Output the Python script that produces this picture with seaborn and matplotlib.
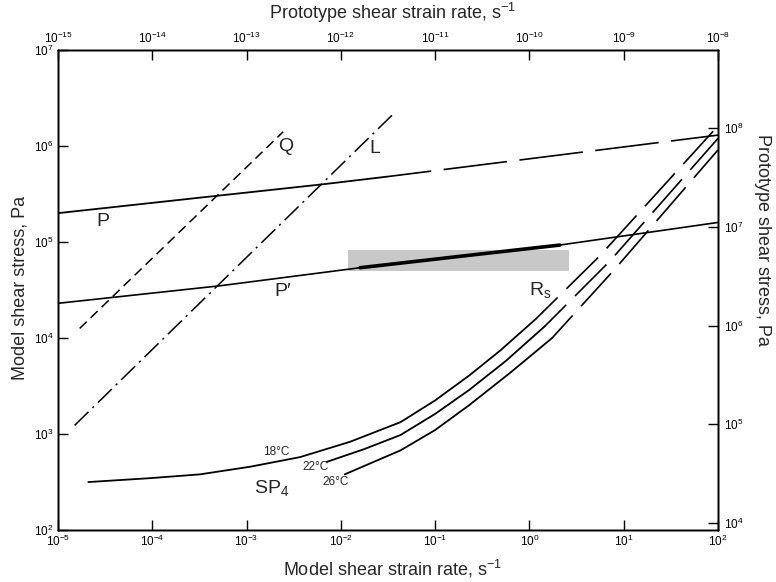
import numpy as np
import pandas as pd
import matplotlib
matplotlib.use("Agg")
import matplotlib.pyplot as plt
from matplotlib.ticker import LogLocator, NullLocator, FixedLocator
import seaborn as sns

# ---------------- data ----------------
# Line P : model shear stress (Pa) vs model shear strain rate (1/s)
p_rate = [1e-5, 4.4e-4, 6.5e-3, 3.1e-2, 100]
p_stress = [2.0e5, 3.0e5, 4.0e5, 4.8e5, 1.3e6]
p_solid_end = 3  # index of last point of the solid part

# Line P'
pp_rate = [1e-5, 5.2e-4, 1.6e-2, 3.0e-1, 2.1, 100]
pp_stress = [2.3e4, 3.5e4, 5.4e4, 7.5e4, 9.3e4, 1.6e5]
rs_first, rs_last = 2, 4  # thick part of P' (R_s range)
# shaded R_s band
band_rate = [1.2e-2, 2.6]
band_stress = [5.0e4, 8.3e4]

# Line Q (dashed) and L (dash-dot)
q_rate = [1.7e-5, 2.45e-3]
q_stress = [1.26e4, 1.41e6]
l_rate = [1.5e-5, 3.5e-2]
l_stress = [1.23e3, 2.1e6]

# SP4 curves at 18, 22, 26 C
sp18_rate = [2.1e-5, 9.5e-5, 3.2e-4, 1.1e-3, 3.7e-3, 1.26e-2, 4.3e-2, 0.1, 0.23, 0.49, 1.17, 5.6, 100]
sp18_stress = [316, 347, 380, 457, 575, 832, 1330, 2240, 4070, 7400, 1.58e4, 7.2e4, 1.62e6]
sp18_solid_end = 10
sp22_rate = [7.1e-3, 1.74e-2, 4.3e-2, 0.1, 0.23, 0.56, 1.45, 7.1, 100]
sp22_stress = [513, 692, 977, 1620, 2880, 5750, 1.32e4, 6.3e4, 1.2e6]
sp22_solid_end = 6
sp26_rate = [1.1e-2, 4.3e-2, 0.1, 0.23, 0.63, 1.74, 8.1, 100]
sp26_stress = [380, 676, 1100, 2000, 4370, 1.0e4, 5.25e4, 9.1e5]
sp26_solid_end = 5

# axes ranges / ticks
model_rate_lim = (1e-5, 1e2)
model_stress_lim = (1e2, 1e7)
proto_rate_lim = (1e-15, 1e-8)
proto_stress_lim = (10 ** 3.93, 10 ** 8.79)
proto_stress_ticks = [1e4, 1e5, 1e6, 1e7, 1e8]

# ---------------- style ----------------
sns.set_theme(style="ticks")
plt.rcParams['font.family'] = ['Liberation Sans', 'DejaVu Sans']
plt.rcParams['mathtext.fontset'] = 'custom'
plt.rcParams['mathtext.rm'] = 'Liberation Sans'
plt.rcParams['mathtext.it'] = 'Liberation Sans:italic'
plt.rcParams['mathtext.bf'] = 'Liberation Sans:bold'
plt.rcParams['lines.scale_dashes'] = False

fig = plt.figure(figsize=(7.76, 5.82), dpi=100)
ax = fig.add_axes([0.0747, 0.0893, 0.8505, 0.8247])
ax.set_xscale('log')
ax.set_yscale('log')
ax.set_xlim(*model_rate_lim)
ax.set_ylim(*model_stress_lim)

K = 'black'


def line(x, y, **kw):
    df = pd.DataFrame({'x': x, 'y': y})
    sns.lineplot(data=df, x='x', y='y', ax=ax, estimator=None, sort=False,
                 color=K, legend=False, **kw)


# shaded band
ax.fill_between(band_rate, [band_stress[0]] * 2, [band_stress[1]] * 2,
                color='#c8c8c8', lw=0, zorder=1)

# P
line(p_rate[:p_solid_end + 1], p_stress[:p_solid_end + 1], linewidth=1.3)
line(p_rate[p_solid_end:], p_stress[p_solid_end:], linewidth=1.2,
     linestyle=(14, (46, 9)))
# P'
line(pp_rate, pp_stress, linewidth=1.2)
line(pp_rate[rs_first:rs_last + 1], pp_stress[rs_first:rs_last + 1], linewidth=2.6)
# Q, L
line(q_rate, q_stress, linewidth=1.1, linestyle=(0, (7, 4)))
line(l_rate, l_stress, linewidth=1.1, linestyle=(0, (14, 4, 1.5, 4)))
# SP4 curves
for r, s, k in [(sp18_rate, sp18_stress, sp18_solid_end),
                (sp22_rate, sp22_stress, sp22_solid_end),
                (sp26_rate, sp26_stress, sp26_solid_end)]:
    line(r[:k + 1], s[:k + 1], linewidth=1.3)
    line(r[k:], s[k:], linewidth=1.2, linestyle=(10, (32, 9)))

# in-plot labels
fs_lab = 14
ax.text(10 ** -4.52, 10 ** 5.21, 'P', fontsize=fs_lab, ha='center', va='center')
ax.text(10 ** -2.62, 10 ** 4.48, "P\u2032", fontsize=fs_lab, ha='center', va='center')
ax.text(10 ** -2.58, 10 ** 6.0, 'Q', fontsize=fs_lab, ha='center', va='center')
ax.text(10 ** -1.64, 10 ** 5.97, 'L', fontsize=fs_lab, ha='center', va='center')
ax.text(10 ** 0.11, 10 ** 4.50, 'R$_{\\mathrm{s}}$', fontsize=fs_lab, ha='center', va='center')
ax.text(10 ** -2.73, 10 ** 2.44, 'SP$_4$', fontsize=fs_lab, ha='center', va='center')
ax.text(10 ** -2.68, 10 ** 2.81, '18°C', fontsize=8.5, ha='center', va='center')
ax.text(10 ** -2.27, 10 ** 2.66, '22°C', fontsize=8.5, ha='center', va='center')
ax.text(10 ** -2.06, 10 ** 2.50, '26°C', fontsize=8.5, ha='center', va='center')

# ticks on main axes
for a in (ax.xaxis, ax.yaxis):
    a.set_major_locator(LogLocator(base=10, numticks=20))
    a.set_minor_locator(NullLocator())
ax.tick_params(which='major', direction='in', length=7, width=1, labelsize=8.5,
               colors=K, pad=3)
ax.set_xlabel('')
ax.set_ylabel('')
for sp in ax.spines.values():
    sp.set_visible(True)
    sp.set_color(K)
    sp.set_linewidth(1.0)

# top axis: prototype shear strain rate
axt = ax.twiny()
axt.set_xscale('log')
axt.set_xlim(*proto_rate_lim)
axt.xaxis.set_major_locator(LogLocator(base=10, numticks=20))
axt.xaxis.set_minor_locator(NullLocator())
axt.tick_params(axis='x', which='major', direction='in', length=7, width=1,
                labelsize=8.5, colors=K, pad=3)

# right axis: prototype shear stress
axr = ax.twinx()
axr.set_yscale('log')
axr.set_ylim(*proto_stress_lim)
axr.yaxis.set_major_locator(FixedLocator(proto_stress_ticks))
axr.yaxis.set_minor_locator(NullLocator())
axr.tick_params(axis='y', which='major', direction='in', length=7, width=1,
                labelsize=8.5, colors=K, pad=4)
for a in (axt, axr):
    for sp in a.spines.values():
        sp.set_color(K)
        sp.set_linewidth(1.0)

# axis titles
fs_ax = 13
fig.text(393 / 776, 1 - 569 / 582, 'Model shear strain rate, s$^{-1}$',
         ha='center', va='center', fontsize=fs_ax)
fig.text(393 / 776, 1 - 13 / 582, 'Prototype shear strain rate, s$^{-1}$',
         ha='center', va='center', fontsize=fs_ax)
fig.text(20 / 776, 1 - 288 / 582, 'Model shear stress, Pa', rotation=90,
         ha='center', va='center', fontsize=fs_ax)
fig.text(763 / 776, 1 - 240 / 582, 'Prototype shear stress, Pa', rotation=270,
         ha='center', va='center', fontsize=fs_ax)

fig.savefig('out.png', dpi=100)
